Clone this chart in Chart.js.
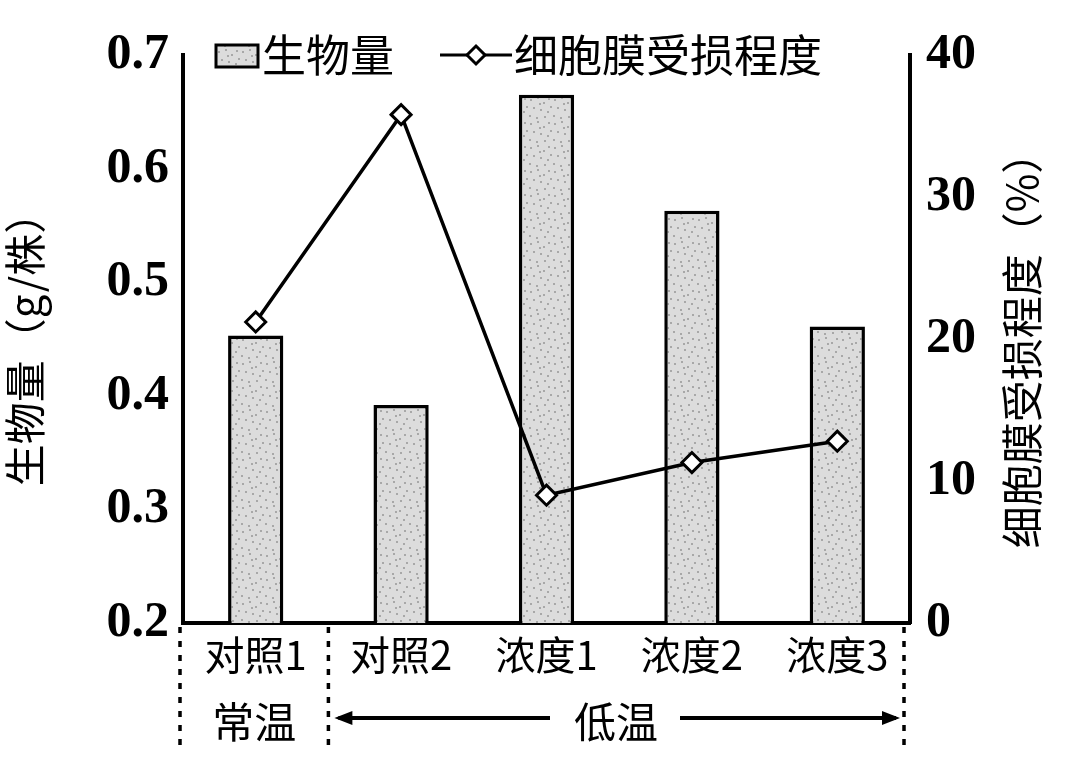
<!DOCTYPE html>
<html><head><meta charset="utf-8">
<script src="https://cdn.jsdelivr.net/npm/chart.js@4/dist/chart.umd.min.js"></script>
<style>body{margin:0;background:#fff}#wrap{width:1080px;height:764px}</style>
</head><body><div id="wrap"><canvas id="c"></canvas></div>
<script>
// 数据
var categories = ['对照1', '对照2', '浓度1', '浓度2', '浓度3'];
var biomass = [0.453, 0.392, 0.665, 0.563, 0.461];     // g/株
var damage = [21.2, 35.8, 9.0, 11.3, 12.8];            // %
var leftTicks = [0.2, 0.3, 0.4, 0.5, 0.6, 0.7];
var rightTicks = [0, 10, 20, 30, 40];

var cjk = '"Noto Sans CJK SC", "Noto Serif CJK SC", serif';
var num = '"Liberation Serif", "DejaVu Serif", serif';

// 灰色点状填充
function stipple() {
    var p = document.createElement('canvas');
    p.width = 24; p.height = 24;
    var g = p.getContext('2d');
    g.fillStyle = '#dcdcdc'; g.fillRect(0, 0, 24, 24);
    var dots = [[2,3],[9,1],[15,6],[20,2],[5,11],[12,13],[19,15],[1,19],[8,21],[16,20],[22,10],[11,7]];
    g.fillStyle = '#a8a8a8';
    dots.forEach(function (d) { g.fillRect(d[0], d[1], 2, 2); });
    return document.getElementById('c').getContext('2d').createPattern(p, 'repeat');
}

// 下方分组标注、图例、右轴标题
var groupPlugin = {
    id: 'groups',
    afterDraw: function (chart) {
        var ctx = chart.ctx, x = chart.scales.x, a = chart.chartArea;
        var xl = a.left - 3, xr = a.right - 6;
        var xm = (x.getPixelForValue(0) + x.getPixelForValue(1)) / 2;
        ctx.save();
        ctx.strokeStyle = '#000'; ctx.lineWidth = 3.5; ctx.setLineDash([6, 8]);
        [xl, xm, xr].forEach(function (px) {
            ctx.beginPath(); ctx.moveTo(px, a.bottom + 4); ctx.lineTo(px, 752); ctx.stroke();
        });
        ctx.setLineDash([]);
        ctx.fillStyle = '#000'; ctx.font = '42px ' + cjk;
        ctx.textAlign = 'center'; ctx.textBaseline = 'middle';
        ctx.fillText('常温', (xl + xm) / 2, 722);
        ctx.fillText('低温', 616, 722);
        ctx.lineWidth = 4;
        var y = 718;
        ctx.beginPath(); ctx.moveTo(xm + 10, y); ctx.lineTo(550, y);
        ctx.moveTo(680, y); ctx.lineTo(xr - 8, y); ctx.stroke();
        ctx.beginPath(); ctx.moveTo(xm + 6, y); ctx.lineTo(xm + 24, y - 7); ctx.lineTo(xm + 24, y + 7); ctx.fill();
        ctx.beginPath(); ctx.moveTo(xr - 4, y); ctx.lineTo(xr - 22, y - 7); ctx.lineTo(xr - 22, y + 7); ctx.fill();
        // 图例
        ctx.font = '44px ' + cjk; ctx.textAlign = 'left';
        ctx.fillStyle = stipple(); ctx.lineWidth = 3;
        ctx.fillRect(216, 45, 42, 22); ctx.strokeRect(216, 45, 42, 22);
        ctx.fillStyle = '#000';
        ctx.fillText('生物量', 262, 55);
        ctx.beginPath(); ctx.moveTo(440, 55); ctx.lineTo(512, 55); ctx.stroke();
        ctx.fillStyle = '#fff';
        ctx.beginPath(); ctx.moveTo(476, 46); ctx.lineTo(485, 55); ctx.lineTo(476, 64); ctx.lineTo(467, 55); ctx.closePath();
        ctx.fill(); ctx.stroke();
        ctx.fillStyle = '#000';
        ctx.fillText('细胞膜受损程度', 514, 55);
        // 右轴标题
        ctx.translate(1022, 340); ctx.rotate(-Math.PI / 2);
        ctx.textAlign = 'center'; ctx.font = '42px ' + cjk;
        ctx.fillText('细胞膜受损程度（%）', 0, 0);
        ctx.restore();
    }
};

var ctx = document.getElementById('c').getContext('2d');
new Chart(ctx, {
    data: {
        labels: categories,
        datasets: [{
            type: 'line', label: '细胞膜受损程度', data: damage, yAxisID: 'y2',
            borderColor: '#000', borderWidth: 3.5, pointStyle: 'rectRot', pointRadius: 10,
            pointBorderWidth: 3, pointBackgroundColor: '#fff', pointBorderColor: '#000', order: 0
        }, {
            type: 'bar', label: '生物量', data: biomass, yAxisID: 'y',
            backgroundColor: stipple(), borderColor: '#000', borderWidth: 3.5,
            barPercentage: 0.38, categoryPercentage: 1, order: 1
        }]
    },
    options: {
        responsive: true, maintainAspectRatio: false, animation: false,
        layout: { padding: { top: 55, right: 0, bottom: 0, left: 0 } },
        plugins: { legend: { display: false }, tooltip: { enabled: false } },
        scales: {
            x: {
                grid: { display: false, drawTicks: true, tickLength: 8 },
                border: { color: '#000', width: 4 },
                ticks: { color: '#000', font: { family: cjk, size: 40 }, padding: 0, maxRotation: 0 },
                afterFit: function (s) { s.height = 764 - 623; }
            },
            y: {
                position: 'left', min: 0.2, max: 0.7,
                afterBuildTicks: function (s) { s.ticks = leftTicks.map(function (v) { return { value: v }; }); },
                grid: { display: false, drawTicks: true, tickLength: 10 },
                border: { color: '#000', width: 4 },
                ticks: { color: '#000', font: { family: num, size: 50, weight: 'bold' }, padding: 4,
                    callback: function (v) { return v.toFixed(1); } },
                title: { display: true, text: '生物量（g/株）', color: '#000', font: { family: cjk, size: 42 }, padding: 0 },
                afterFit: function (s) { s.width = 183; }
            },
            y2: {
                position: 'right', min: 0, max: 40,
                afterBuildTicks: function (s) { s.ticks = rightTicks.map(function (v) { return { value: v }; }); },
                grid: { display: false, drawTicks: true, tickLength: 10 },
                border: { color: '#000', width: 4 },
                ticks: { color: '#000', font: { family: num, size: 50, weight: 'bold' }, padding: 6 },
                afterFit: function (s) { s.width = 1080 - 910; }
            }
        }
    },
    plugins: [groupPlugin]
});
</script></body></html>
